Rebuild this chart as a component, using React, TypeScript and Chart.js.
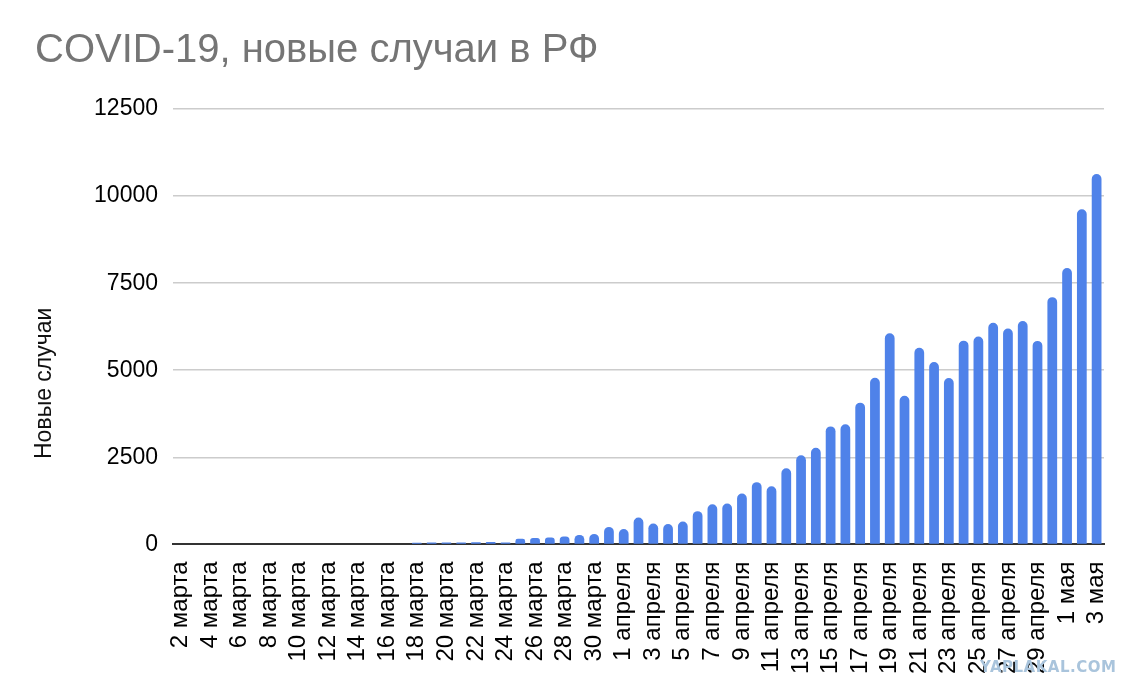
import React, { useEffect, useRef } from 'react';
import { Chart, registerables } from 'chart.js';

Chart.register(...registerables);

const days: string[] = [
  '2 марта', '3 марта', '4 марта', '5 марта', '6 марта', '7 марта', '8 марта', '9 марта',
  '10 марта', '11 марта', '12 марта', '13 марта', '14 марта', '15 марта', '16 марта', '17 марта',
  '18 марта', '19 марта', '20 марта', '21 марта', '22 марта', '23 марта', '24 марта', '25 марта',
  '26 марта', '27 марта', '28 марта', '29 марта', '30 марта', '31 марта',
  '1 апреля', '2 апреля', '3 апреля', '4 апреля', '5 апреля', '6 апреля', '7 апреля', '8 апреля',
  '9 апреля', '10 апреля', '11 апреля', '12 апреля', '13 апреля', '14 апреля', '15 апреля',
  '16 апреля', '17 апреля', '18 апреля', '19 апреля', '20 апреля', '21 апреля', '22 апреля',
  '23 апреля', '24 апреля', '25 апреля', '26 апреля', '27 апреля', '28 апреля', '29 апреля',
  '30 апреля',
  '1 мая', '2 мая', '3 мая',
];

const marchCases: number[] = [
  0, 0, 0, 0, 0, 0, 0, 0, 0, 0, 0, 0, 0, 0, 0, 0,
  50, 52, 53, 54, 61, 71, 57, 163, 182, 196, 228, 270, 302, 501,
];

const aprilCases: number[] = [
  440, 771, 601, 582, 658, 954, 1154, 1175, 1459, 1786, 1667, 2186, 2558, 2774, 3388,
  3448, 4070, 4785, 6060, 4268, 5642, 5236, 4774, 5849, 5966, 6361, 6198, 6411, 5841, 7099,
];

const mayCases: number[] = [7933, 9623, 10633];

const yTicks: number[] = [0, 2500, 5000, 7500, 10000, 12500];

const FONT = '"Liberation Sans", Arial, sans-serif';

const yTitlePlugin = {
  id: 'yTitle',
  afterDraw(chart: Chart) {
    const { ctx, chartArea } = chart;
    ctx.save();
    ctx.translate(45, chartArea.top + (chartArea.bottom - chartArea.top) * 0.63);
    ctx.rotate(-Math.PI / 2);
    ctx.font = `23px ${FONT}`;
    ctx.fillStyle = '#111';
    ctx.textAlign = 'center';
    ctx.textBaseline = 'middle';
    ctx.fillText('Новые случаи', 0, 0);
    ctx.restore();
  },
};

export default function App() {
  const chartRef = useRef<HTMLCanvasElement>(null);
  const chartInstance = useRef<Chart | null>(null);

  useEffect(() => {
    if (!chartRef.current) return;
    if (chartInstance.current) chartInstance.current.destroy();

    const ctx = chartRef.current.getContext('2d');
    if (!ctx) return;

    chartInstance.current = new Chart(ctx, {
      type: 'bar',
      data: {
        labels: days,
        datasets: [
          {
            label: 'Новые случаи',
            data: [...marchCases, ...aprilCases, ...mayCases],
            backgroundColor: '#4f82e9',
            borderRadius: { topLeft: 5, topRight: 5, bottomLeft: 0, bottomRight: 0 },
            borderSkipped: 'start',
            barPercentage: 0.66,
            categoryPercentage: 1,
          },
        ],
      },
      options: {
        animation: false,
        responsive: true,
        maintainAspectRatio: false,
        layout: { padding: { left: 35, right: 36, top: 0, bottom: 15 } },
        plugins: {
          legend: { display: false },
          tooltip: { enabled: false },
          title: {
            display: true,
            text: 'COVID-19, новые случаи в РФ',
            align: 'start',
            color: '#757575',
            font: { family: FONT, size: 40, weight: 'normal' },
            padding: { top: 27, bottom: 34 },
          },
        },
        scales: {
          x: {
            grid: { display: false },
            border: { display: true, color: '#333', width: 2 },
            ticks: {
              autoSkip: false,
              maxRotation: 90,
              minRotation: 90,
              color: '#000',
              padding: 9,
              font: { family: FONT, size: 24 },
              callback: (_v: any, i: number) => (i % 2 === 0 ? days[i] : ''),
            },
          },
          y: {
            min: 0,
            max: 12500,
            afterBuildTicks: (scale: any) => {
              scale.ticks = yTicks.map((v) => ({ value: v }));
            },
            afterFit: (scale: any) => {
              scale.width = 138;
            },
            border: { display: false },
            grid: {
              drawTicks: false,
              color: (c: any) => (c.tick && c.tick.value === 0 ? 'rgba(0,0,0,0)' : '#cccccc'),
              lineWidth: 1.5,
            },
            ticks: {
              color: '#000',
              padding: 15,
              font: { family: FONT, size: 23 },
              callback: (v: any) => String(v),
            },
          },
        },
      },
      plugins: [yTitlePlugin],
    });

    return () => {
      if (chartInstance.current) {
        chartInstance.current.destroy();
        chartInstance.current = null;
      }
    };
  }, []);

  return (
    <div style={{ position: 'fixed', left: 0, top: 0, width: 1140, height: 698, background: '#fff' }}>
      <canvas ref={chartRef} />
      <div
        style={{
          position: 'absolute',
          left: 980,
          top: 658,
          fontFamily: '"DejaVu Sans", sans-serif',
          fontWeight: 'bold',
          fontSize: 15,
          color: '#a9c4dc',
          letterSpacing: 0.5,
        }}
      >
        YAPLAKAL.COM
      </div>
    </div>
  );
}
